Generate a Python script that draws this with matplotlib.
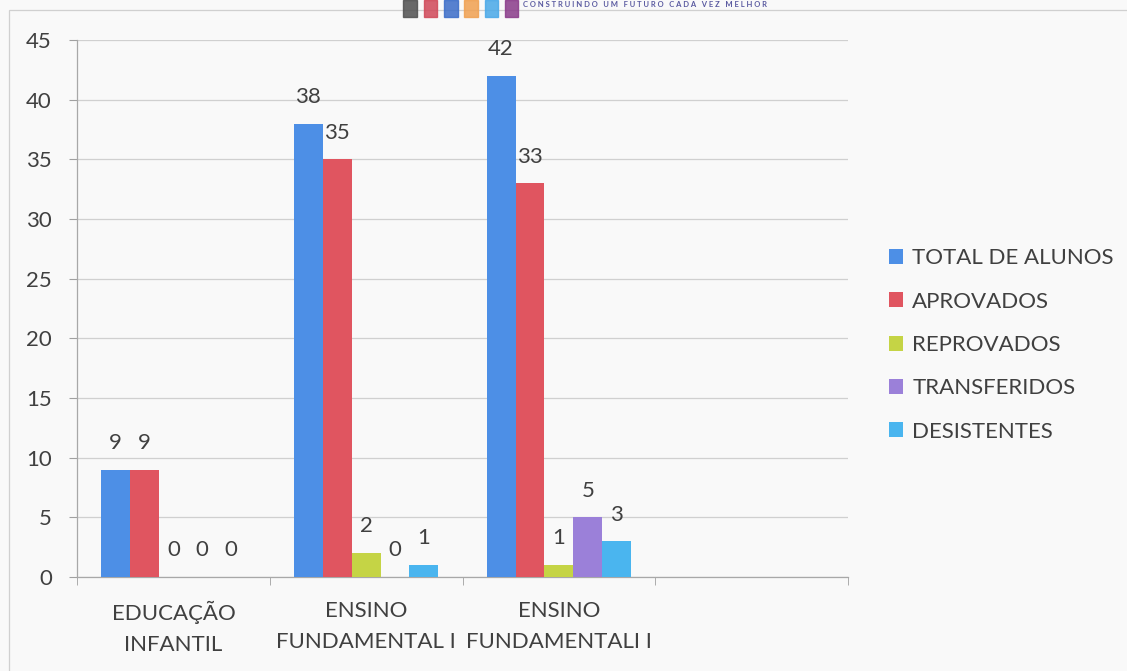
import matplotlib
matplotlib.use("Agg")
import matplotlib.pyplot as plt
from matplotlib.patches import Rectangle
import numpy as np

plt.rcParams['font.family'] = ['Lato', 'DejaVu Sans']

categories = ["EDUCAÇÃO\nINFANTIL", "ENSINO\nFUNDAMENTAL I", "ENSINO\nFUNDAMENTALI I", ""]
series_names = ["TOTAL DE ALUNOS", "APROVADOS", "REPROVADOS", "TRANSFERIDOS", "DESISTENTES"]
total = [9, 38, 42]
aprovados = [9, 35, 33]
reprovados = [0, 2, 1]
transferidos = [0, 0, 5]
desistentes = [0, 1, 3]
values = [total, aprovados, reprovados, transferidos, desistentes]
colors = ["#4d8fe6", "#e05560", "#c5d445", "#9b80d9", "#4ab5ef"]
yticks = [0, 5, 10, 15, 20, 25, 30, 35, 40, 45]

txt = "#404040"
bg = "#f9f9f9"
fs = 16
fig = plt.figure(figsize=(11.27, 6.71), dpi=100, facecolor=bg)
ax = fig.add_axes([77 / 1127, 1 - 577 / 671, 771 / 1127, 537 / 671], facecolor=bg)

n = len(values)
bw = 0.15
x = np.arange(len(total))
for i, (vals, c, name) in enumerate(zip(values, colors, series_names)):
    xs = x + (i - (n - 1) / 2) * bw
    ax.bar(xs, vals, width=bw, color=c, label=name, zorder=3)
    for xi, v in zip(xs, vals):
        ax.annotate(str(v), (xi, v), xytext=(0, 12), textcoords="offset points",
                    ha="center", va="bottom", fontsize=fs, color=txt)

ax.set_xlim(-0.5, len(categories) - 0.5)
ax.set_ylim(0, 45)
ax.set_yticks(yticks)
ax.set_yticklabels([str(t) for t in yticks], fontsize=fs, color=txt)
ax.set_xticks(np.arange(len(categories)))
ax.set_xticklabels(categories, fontsize=fs, color=txt, linespacing=1.7)
ax.tick_params(axis="x", length=0, pad=17)
ax.set_xticks(np.arange(len(categories) + 1) - 0.5, minor=True)
ax.tick_params(axis="x", which="minor", length=6, color="#a0a0a0")
ax.tick_params(axis="y", length=6, color="#a0a0a0", pad=12)
ax.yaxis.grid(True, color="#d0d0d0", linewidth=0.9, zorder=0)
for s in ["top", "right"]:
    ax.spines[s].set_visible(False)
for s in ["left", "bottom"]:
    ax.spines[s].set_color("#a8a8a8")
    ax.spines[s].set_linewidth(0.9)

leg = ax.legend(loc="center left", bbox_to_anchor=(1.053, 0.432), frameon=False,
                fontsize=fs, handlelength=0.65, handleheight=0.65, handletextpad=0.4,
                labelspacing=1.05, labelcolor=txt, borderpad=0, borderaxespad=0)

fig.patches.append(Rectangle((0.008, -0.1), 1.1, 1.085, transform=fig.transFigure,
                             fill=False, edgecolor="#d0d0d0", linewidth=0.9))
# header logo fragment (decoration)
logo_cols = ["#505050", "#d04858", "#3a6cc8", "#f0a050", "#48a8e8", "#8a3a8a"]
for k, lc in enumerate(logo_cols):
    fig.patches.append(Rectangle((0.358 + k * 0.018, 0.975), 0.012, 0.025,
                                 transform=fig.transFigure, color=lc, alpha=0.85))
fig.text(0.572, 0.999, "C O N S T R U I N D O   U M   F U T U R O   C A D A   V E Z   M E L H O R",
         fontsize=5.5, color="#5a5aa0", ha="center", va="top", fontweight="bold")

fig.savefig("out.png", dpi=100, facecolor=bg)
